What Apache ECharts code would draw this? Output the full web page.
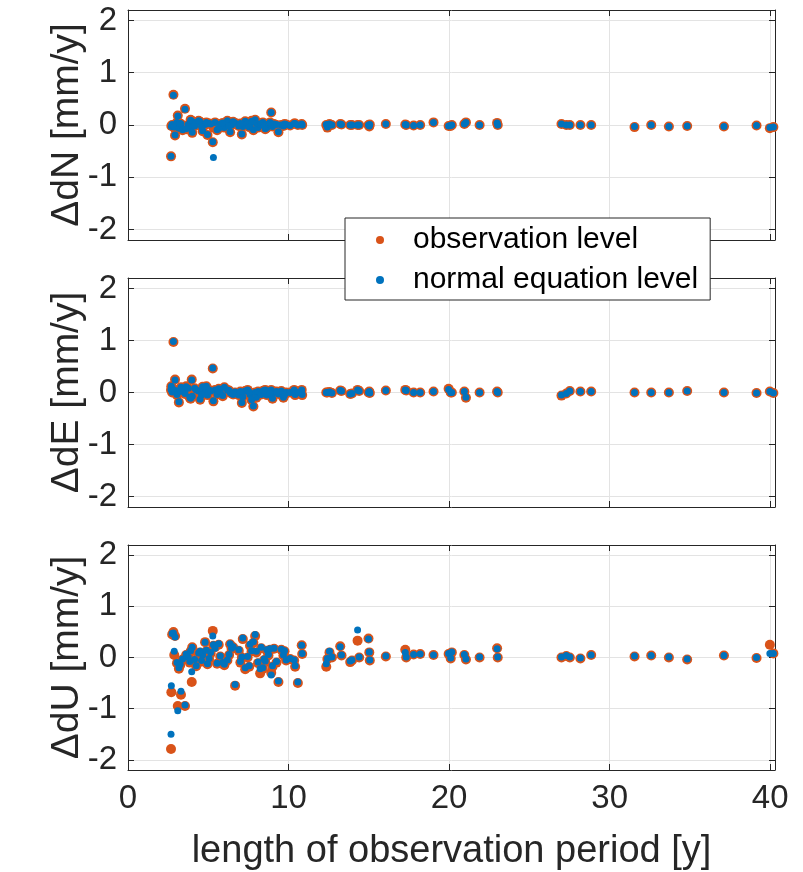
<!DOCTYPE html>
<html>
<head>
<meta charset="utf-8">
<script src="https://cdn.jsdelivr.net/npm/echarts@6/dist/echarts.min.js"></script>
<style>html,body{margin:0;padding:0;background:#fff}#c{width:803px;height:872px}</style>
</head>
<body>
<div id="c"></div>
<script>
// length of observation period [y] per station
const lengthY = [2.68, 2.70, 2.75, 2.83, 2.88, 2.93, 3.05, 3.10, 3.17, 3.30, 3.40, 3.55, 3.75, 3.85, 3.97, 4.00, 4.25, 4.49, 4.65, 4.80, 4.95, 5.05, 5.28, 5.32, 5.42, 5.55, 5.75, 6.00, 6.19, 6.36, 6.45, 6.67, 6.90, 7.09, 7.15, 7.30, 7.45, 7.60, 7.81, 7.92, 8.00, 8.10, 8.23, 8.40, 8.55, 8.65, 8.75, 8.92, 9.00, 9.10, 9.37, 9.55, 9.68, 9.85, 10.10, 10.35, 10.41, 10.58, 10.82, 10.85,
  12.35, 12.42, 12.55, 12.70, 13.22, 13.30, 13.84, 13.95, 14.30, 14.40, 14.98, 15.03, 15.06, 16.06, 17.27, 17.33, 17.79, 18.20, 19.03, 19.97, 20.10, 20.17, 20.95, 21.05, 21.90, 22.99, 23.03, 27.00, 27.30, 27.52, 28.18, 28.85, 31.55, 32.59, 33.69, 34.83, 37.12, 39.15, 39.98, 40.20,
  3.25, 3.62, 3.90, 4.15, 4.40, 4.58, 4.88, 5.15, 5.65, 5.90, 6.30, 6.55, 7.00, 7.55, 7.70, 8.30, 8.48, 8.85, 9.25, 9.75];

const dN_obs = [-0.60, -0.02, 0.00, 0.58, -0.05, -0.20, 0.05, 0.18, -0.05, 0.02,
  -0.10, 0.31, 0.00, -0.05, 0.08, -0.15, 0.05, 0.06, -0.12, 0.00,
  -0.19, 0.03, -0.33, -0.05, 0.05, -0.10, 0.02, -0.05, 0.08, -0.14,
  0.00, 0.04, -0.02, -0.18, -0.03, 0.07, 0.04, 0.00, -0.10, 0.10,
  0.03, -0.05, 0.00, 0.05, -0.08, -0.05, 0.02, 0.24, -0.03, 0.02,
  -0.14, 0.00, -0.02, 0.01, -0.01, 0.03, 0.03, 0.00, 0.02, 0.00,
  0.00, -0.05, 0.02, 0.00, 0.02, 0.01, 0.00, 0.00, 0.00, 0.00,
  0.00, -0.03, 0.01, 0.02, 0.01, 0.00, -0.01, 0.00, 0.05, -0.02,
  -0.02, 0.00, 0.02, 0.05, 0.00, 0.04, 0.00, 0.02, 0.00, 0.00,
  0.00, 0.00, -0.04, 0.00, -0.03, -0.02, -0.03, -0.01, -0.06, -0.04,
  0.03, -0.08, 0.10, -0.02, 0.08, -0.03, 0.05, 0.02, -0.06, 0.04,
  -0.02, 0.06, 0.03, -0.04, 0.08, 0.03, -0.02, 0.05, 0.00, 0.02];
const dN_neq = [-0.60, -0.03, 0.01, 0.57, -0.04, -0.19, 0.05, 0.17, -0.06, 0.02,
  -0.09, 0.30, 0.01, -0.05, 0.07, -0.14, 0.05, 0.06, -0.11, 0.01,
  -0.18, 0.03, -0.32, -0.62, 0.05, -0.09, 0.02, -0.05, 0.08, -0.13,
  0.00, 0.04, -0.02, -0.17, -0.03, 0.07, 0.04, 0.00, -0.09, 0.10,
  0.03, -0.05, 0.01, 0.05, -0.07, -0.05, 0.02, 0.24, -0.03, 0.02,
  -0.13, 0.00, -0.02, 0.01, -0.01, 0.03, 0.03, 0.00, 0.02, 0.00,
  0.01, -0.04, 0.02, 0.00, 0.02, 0.01, 0.00, 0.00, 0.00, 0.00,
  0.00, -0.02, 0.01, 0.02, 0.01, 0.00, -0.01, 0.00, 0.05, -0.02,
  -0.01, 0.00, 0.02, 0.05, 0.00, 0.04, 0.00, 0.02, 0.00, 0.00,
  0.00, 0.00, -0.03, 0.00, -0.03, -0.02, -0.03, -0.01, -0.05, -0.04,
  0.03, -0.07, 0.09, -0.02, 0.08, -0.03, 0.05, 0.02, -0.06, 0.04,
  -0.02, 0.06, 0.03, -0.04, 0.07, 0.03, -0.02, 0.05, 0.01, 0.02];

const dE_obs = [0.05, 0.12, 0.00, 0.97, 0.06, 0.25, -0.05, 0.00, -0.19, 0.10,
  0.02, -0.03, 0.08, -0.10, 0.25, -0.08, 0.05, -0.14, 0.11, 0.00,
  -0.05, 0.05, 0.46, -0.17, 0.05, -0.04, 0.00, 0.10, 0.05, 0.00,
  -0.02, 0.00, -0.05, -0.20, -0.08, 0.03, 0.05, -0.05, -0.27, 0.00,
  -0.10, 0.02, 0.00, 0.03, 0.05, -0.05, 0.03, 0.05, -0.12, 0.00,
  -0.03, 0.03, -0.10, 0.00, 0.00, 0.05, -0.05, 0.00, 0.05, -0.05,
  0.00, 0.00, 0.01, -0.01, 0.04, 0.03, -0.03, -0.02, 0.05, 0.03,
  0.00, 0.02, -0.01, 0.04, 0.05, 0.04, 0.00, 0.00, 0.02, 0.07,
  0.00, 0.00, 0.02, -0.10, 0.00, 0.02, 0.00, -0.06, -0.02, 0.03,
  0.02, 0.02, 0.00, 0.00, 0.00, 0.03, 0.00, -0.01, 0.02, -0.01,
  0.05, 0.12, -0.12, 0.08, 0.02, -0.06, 0.12, 0.03, 0.07, -0.07,
  0.04, -0.04, 0.02, 0.01, -0.15, -0.04, 0.04, -0.02, 0.02, -0.05];
const dE_neq = [0.06, 0.12, 0.01, 0.98, 0.05, 0.24, -0.04, 0.01, -0.18, 0.10,
  0.02, -0.02, 0.08, -0.09, 0.24, -0.07, 0.05, -0.13, 0.11, 0.01,
  -0.05, 0.05, 0.47, -0.16, 0.05, -0.04, 0.01, 0.10, 0.05, 0.00,
  -0.02, 0.01, -0.05, -0.19, -0.08, 0.03, 0.05, -0.04, -0.26, 0.00,
  -0.09, 0.02, 0.00, 0.03, 0.05, -0.05, 0.03, 0.05, -0.11, 0.00,
  -0.03, 0.03, -0.09, 0.00, 0.00, 0.05, -0.04, 0.00, 0.05, -0.04,
  0.00, 0.00, 0.01, -0.01, 0.04, 0.03, -0.03, -0.02, 0.05, 0.03,
  0.00, 0.02, -0.01, 0.04, 0.05, 0.04, 0.00, 0.00, 0.02, 0.06,
  0.00, 0.00, 0.02, -0.09, 0.00, 0.02, 0.00, -0.05, -0.02, 0.03,
  0.02, 0.02, 0.00, 0.00, 0.00, 0.03, 0.00, -0.01, 0.02, -0.01,
  0.05, 0.11, -0.11, 0.08, 0.03, -0.05, 0.12, 0.03, 0.07, -0.06,
  0.04, -0.04, 0.02, 0.01, -0.14, -0.04, 0.04, -0.02, 0.02, -0.05];

const dU_obs = [-1.79, -0.68, 0.45, 0.50, 0.05, 0.42, -0.11, -0.95, -0.22, -0.73,
  -0.04, -0.95, 0.00, -0.10, -0.48, 0.20, -0.17, 0.10, 0.04, 0.30,
  -0.13, -0.03, 0.52, 0.23, 0.20, -0.12, 0.02, -0.15, -0.06, 0.26,
  0.17, -0.55, 0.13, 0.00, 0.36, -0.23, 0.00, 0.23, 0.29, 0.42,
  0.10, -0.11, -0.31, -0.22, -0.09, 0.13, 0.04, -0.30, -0.18, 0.17,
  -0.48, 0.15, 0.04, -0.06, -0.03, -0.06, -0.18, -0.50, 0.24, 0.07,
  -0.18, -0.03, 0.10, 0.00, 0.22, 0.04, -0.09, -0.06, 0.33, 0.00,
  0.37, 0.10, -0.06, 0.02, 0.15, 0.00, 0.06, 0.07, 0.05, 0.07,
  -0.02, 0.10, 0.05, -0.04, 0.00, 0.18, 0.00, 0.00, 0.03, 0.00,
  -0.02, 0.05, 0.02, 0.04, 0.00, -0.04, 0.04, -0.01, 0.25, 0.08,
  -0.15, 0.05, 0.12, -0.05, 0.07, -0.08, 0.12, 0.08, 0.25, -0.12,
  0.05, 0.20, -0.10, -0.18, 0.12, 0.18, -0.05, 0.15, -0.10, 0.12];
const dU_neq = [-1.50, -0.55, 0.47, 0.48, 0.12, 0.40, -0.10, -1.04, -0.20, -0.66,
  -0.03, -0.93, 0.01, -0.08, -0.28, 0.20, -0.16, 0.12, 0.05, 0.30,
  -0.12, -0.02, 0.42, 0.25, 0.18, -0.11, 0.03, -0.13, -0.05, 0.27,
  0.18, -0.53, 0.15, 0.01, 0.38, -0.20, 0.02, 0.26, 0.31, 0.45,
  0.12, -0.09, -0.22, -0.20, -0.07, 0.15, 0.06, -0.34, -0.16, 0.18,
  -0.46, 0.16, 0.05, -0.05, -0.02, -0.05, -0.16, -0.48, 0.24, 0.08,
  -0.12, -0.02, 0.12, 0.01, 0.21, 0.05, -0.07, -0.05, 0.54, 0.01,
  0.36, 0.11, -0.05, 0.03, 0.10, 0.01, 0.06, 0.07, 0.05, 0.08,
  -0.01, 0.11, 0.06, -0.03, 0.01, 0.17, 0.01, 0.01, 0.04, 0.01,
  -0.01, 0.05, 0.03, 0.04, 0.01, -0.03, 0.04, 0.00, 0.08, 0.08,
  -0.13, 0.07, 0.13, -0.04, 0.09, -0.06, 0.14, 0.10, 0.27, -0.10,
  0.06, 0.21, -0.08, -0.16, 0.13, 0.20, -0.03, 0.17, -0.08, 0.13];

const xTicks = [0, 10, 20, 30, 40];
const yTicks = [-2, -1, 0, 1, 2];
const panelNames = ['\u0394dN [mm/y]', '\u0394dE [mm/y]', '\u0394dU [mm/y]'];
const seriesNames = ['observation level', 'normal equation level'];
const xAxisName = 'length of observation period [y]';

const FONT = 'Liberation Sans, Arial, Helvetica, sans-serif';
const AX = '#262626';
const GRIDC = '#e3e3e3';
const ORANGE = '#D95319';
const BLUE = '#0072BD';

const panels = [[dN_obs, dN_neq], [dE_obs, dE_neq], [dU_obs, dU_neq]];
const grids = [
  {left: 128, top: 10, width: 647, height: 230},
  {left: 128, top: 278, width: 647, height: 229},
  {left: 128, top: 545, width: 647, height: 229}
];

const xAxes = [], yAxes = [], series = [];
grids.forEach((g, gi) => {
  const last = gi === 2;
  xAxes.push({
    gridIndex: gi, type: 'value', position: 'bottom', min: 0, max: 40.3,
    axisLine: {show: true, onZero: false, lineStyle: {color: AX, width: 1}},
    axisTick: {show: true, inside: true, length: 6, customValues: xTicks, lineStyle: {color: AX}},
    axisLabel: {show: last, customValues: xTicks, fontSize: 33, color: AX, fontFamily: FONT, margin: 12},
    splitLine: {show: true, lineStyle: {color: GRIDC, width: 1}},
    name: last ? xAxisName : '', nameLocation: 'middle', nameGap: 63,
    nameTextStyle: {fontSize: 38, color: AX, fontFamily: FONT}
  });
  xAxes.push({
    gridIndex: gi, type: 'value', position: 'top', min: 0, max: 40.3,
    axisLine: {show: true, onZero: false, lineStyle: {color: AX, width: 1}},
    axisTick: {show: true, inside: true, length: 6, customValues: xTicks, lineStyle: {color: AX}},
    axisLabel: {show: false}, splitLine: {show: false}
  });
  yAxes.push({
    gridIndex: gi, type: 'value', position: 'left', min: -2.2, max: 2.2,
    axisLine: {show: true, onZero: false, lineStyle: {color: AX, width: 1}},
    axisTick: {show: true, inside: true, length: 6, customValues: yTicks, lineStyle: {color: AX}},
    axisLabel: {show: true, customValues: yTicks, fontSize: 33, color: AX, fontFamily: FONT, margin: 11},
    splitLine: {show: true, lineStyle: {color: GRIDC, width: 1}},
    name: panelNames[gi], nameLocation: 'middle', nameRotate: 90, nameGap: 41,
    nameMoveOverlap: false,
    nameTextStyle: {fontSize: 39, color: AX, fontFamily: FONT}
  });
  yAxes.push({
    gridIndex: gi, type: 'value', position: 'right', min: -2.2, max: 2.2,
    axisLine: {show: true, onZero: false, lineStyle: {color: AX, width: 1}},
    axisTick: {show: true, inside: true, length: 6, customValues: yTicks, lineStyle: {color: AX}},
    axisLabel: {show: false}, splitLine: {show: false}
  });
  const [obs, neq] = panels[gi];
  series.push({
    type: 'scatter', name: seriesNames[0], xAxisIndex: 2 * gi, yAxisIndex: 2 * gi,
    symbol: 'circle', symbolSize: 10, itemStyle: {color: ORANGE, opacity: 1},
    data: lengthY.map((x, i) => [x, obs[i]]), z: 2
  });
  series.push({
    type: 'scatter', name: seriesNames[1], xAxisIndex: 2 * gi, yAxisIndex: 2 * gi,
    symbol: 'circle', symbolSize: 7, itemStyle: {color: BLUE, opacity: 1},
    data: lengthY.map((x, i) => [x, neq[i]]), z: 3
  });
});

const chart = echarts.init(document.getElementById('c'), null, {renderer: 'canvas'});
chart.setOption({
  animation: false,
  backgroundColor: '#fff',
  grid: grids,
  xAxis: xAxes,
  yAxis: yAxes,
  legend: {
    show: true, orient: 'vertical', left: 345, top: 218,
    data: [{name: seriesNames[0], icon: 'circle'}, {name: seriesNames[1], icon: 'circle'}],
    itemWidth: 56, itemHeight: 8, itemGap: 10,
    padding: [7, 12, 5, 31],
    backgroundColor: '#fff', borderColor: AX, borderWidth: 1, borderRadius: 0,
    textStyle: {fontSize: 30, color: '#000', fontFamily: FONT, lineHeight: 30},
    z: 10
  },
  series: series
});
</script>
</body>
</html>
